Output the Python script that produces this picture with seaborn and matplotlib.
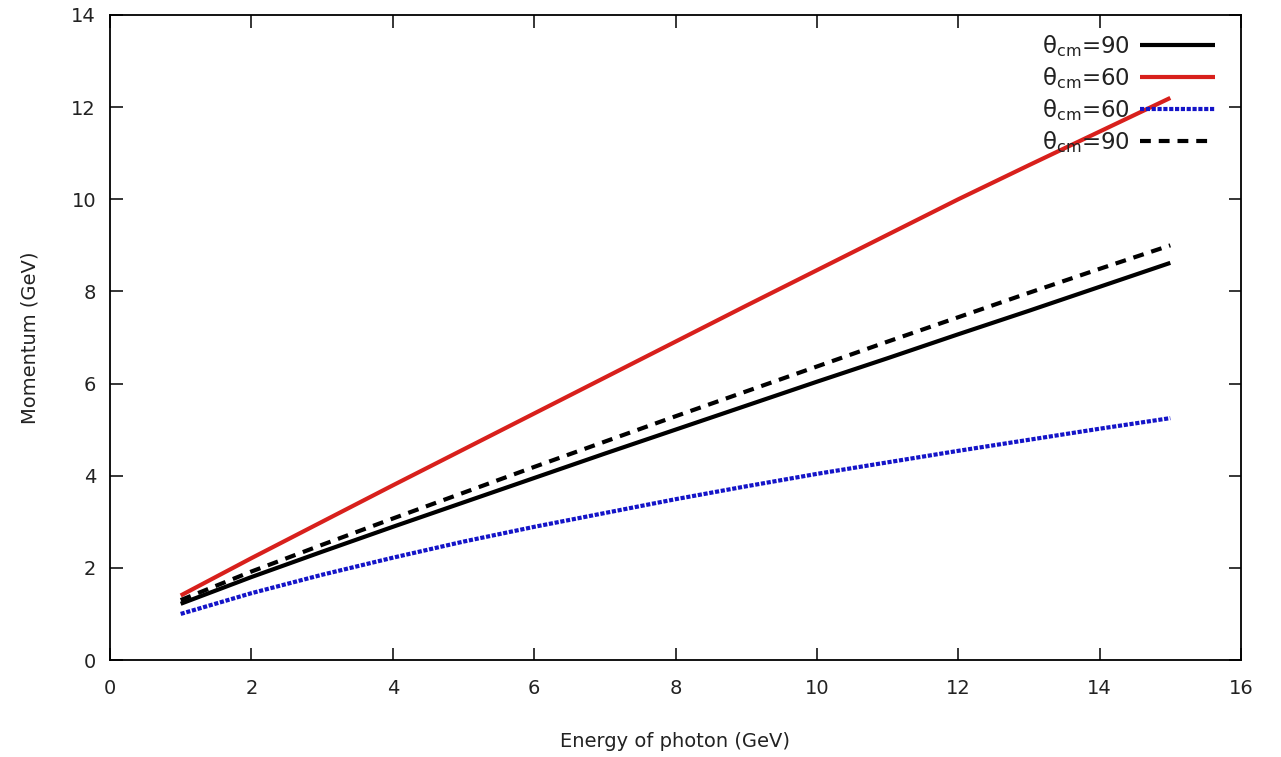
import numpy as np
import pandas as pd
import matplotlib
matplotlib.use("Agg")
import matplotlib.pyplot as plt
import seaborn as sns

# ---- data ----
energy = [1, 2, 3, 4, 5, 6, 7, 8, 9, 10, 11, 12, 13, 14, 15]
p90_solid = [1.22, 1.80, 2.35, 2.89, 3.42, 3.95, 4.48, 5.00, 5.52, 6.04, 6.55, 7.07, 7.58, 8.10, 8.62]
p60_red = [1.40, 2.21, 3.00, 3.79, 4.57, 5.35, 6.13, 6.91, 7.69, 8.46, 9.23, 10.00, 10.74, 11.47, 12.20]
p60_blue = [1.00, 1.45, 1.85, 2.22, 2.57, 2.89, 3.19, 3.49, 3.77, 4.04, 4.29, 4.54, 4.78, 5.02, 5.25]
p90_dashed = [1.30, 1.92, 2.50, 3.07, 3.63, 4.19, 4.74, 5.29, 5.83, 6.37, 6.91, 7.44, 7.97, 8.49, 9.00]

labels = [r"θ$_{\mathrm{cm}}$=90", r"θ$_{\mathrm{cm}}$=60", r"θ$_{\mathrm{cm}}$=60", r"θ$_{\mathrm{cm}}$=90"]
x_ticks = [0, 2, 4, 6, 8, 10, 12, 14, 16]
y_ticks = [0, 2, 4, 6, 8, 10, 12, 14]
x_label = "Energy of photon (GeV)"
y_label = "Momentum (GeV)"

sns.set_theme(style="ticks")
plt.rcParams["font.family"] = ["DejaVu Sans"]
plt.rcParams["mathtext.fontset"] = "dejavusans"

fig = plt.figure(figsize=(12.81, 7.57), dpi=100)
ax = fig.add_axes([110 / 1281, 1 - 660 / 757, (1241 - 110) / 1281, (660 - 15) / 757])

series = [
    (p90_solid, "black", "-"),
    (p60_red, "#d8201c", "-"),
    (p60_blue, "#1414c8", (0, (1.0, 0.4))),
    (p90_dashed, "black", (0, (2.6, 1.9))),
]
for (vals, col, ls), lab in zip(series, labels):
    df = pd.DataFrame({"E": energy, "p": vals})
    sns.lineplot(data=df, x="E", y="p", ax=ax, color=col, linewidth=3.0,
                 linestyle=ls, label=lab)
for line in ax.get_lines():
    line.set_solid_capstyle("butt")
    line.set_dash_capstyle("butt")

ax.set_xlim(0, 16)
ax.set_ylim(0, 14)
ax.set_xticks(x_ticks)
ax.set_yticks(y_ticks)
ax.tick_params(direction="in", length=9, width=1.1, top=True, right=True,
               labelsize=14, colors="black", labelcolor="#222222")
ax.tick_params(axis="y", pad=10)
ax.tick_params(axis="x", pad=14)
for s in ax.spines.values():
    s.set_visible(True)
    s.set_linewidth(1.3)
    s.set_color("black")
ax.set_xlabel(x_label, fontsize=14, labelpad=24, color="#222222")
ax.set_ylabel(y_label, fontsize=14, labelpad=23, color="#222222")

leg = ax.legend(loc="upper right", bbox_to_anchor=(1 - 12 / 1131, 1 - 4 / 645), frameon=False,
                markerfirst=False, handlelength=3.3, labelspacing=0.27,
                fontsize=16.5, handletextpad=0.4, borderaxespad=0.3, borderpad=0.3)
for t in leg.get_texts():
    t.set_color("#222222")

fig.savefig("out.png", dpi=100, facecolor="white")
